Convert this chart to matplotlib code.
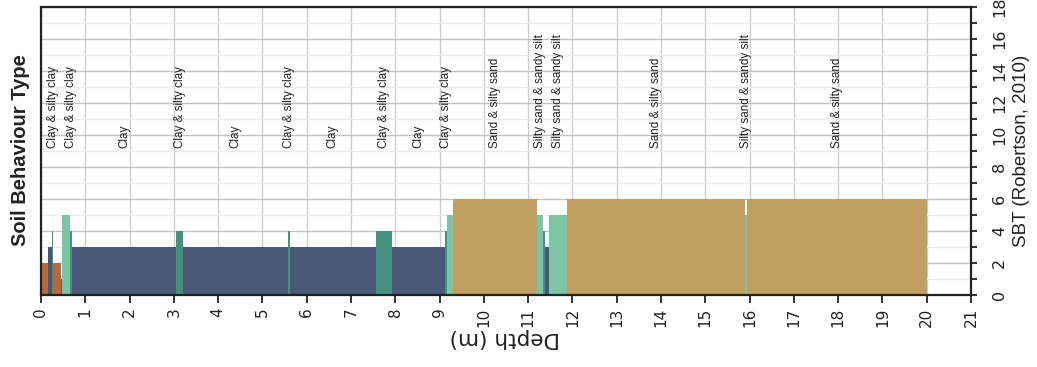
import numpy as np
import matplotlib
matplotlib.use("Agg")
import matplotlib.pyplot as plt
from matplotlib import font_manager
from matplotlib.ticker import MultipleLocator

# Soil layers: top / bottom depth (m) and Robertson (2010) SBT zone
layer_top = [0.00, 0.16, 0.25, 0.28, 0.45, 0.47, 0.65, 0.70, 3.05, 3.21, 5.58, 5.62,
             7.56, 7.93, 9.12, 9.17, 9.30, 11.20, 11.33, 11.38, 11.47, 11.88, 15.90, 15.94]
layer_bottom = [0.16, 0.25, 0.28, 0.45, 0.47, 0.65, 0.70, 3.05, 3.21, 5.58, 5.62, 7.56,
                7.93, 9.12, 9.17, 9.30, 11.20, 11.33, 11.38, 11.47, 11.88, 15.90, 15.94, 20.00]
layer_sbt = [2, 3, 4, 2, 1, 5, 4, 3, 4, 3, 4, 3, 4, 3, 4, 5, 6, 5, 4, 3, 5, 6, 5, 6]
layer_labelled = [0, 0, 1, 0, 0, 0, 1, 1, 1, 1, 1, 1, 1, 1, 1, 0, 1, 1, 0, 0, 1, 1, 1, 1]

sbt_names = {
    1: "Sensitive fine grained",
    2: "Organic soils - clay",
    3: "Clay",
    4: "Clay & silty clay",
    5: "Silty sand & sandy silt",
    6: "Sand & silty sand",
}
sbt_colors = {
    1: "#c0392b",
    2: "#b5693e",
    3: "#4a5878",
    4: "#459180",
    5: "#7bc5a3",
    6: "#c0a062",
}

depth_ticks = list(range(0, 22))
sbt_ticks = list(range(0, 19, 2))

installed = {f.name for f in font_manager.fontManager.ttflist}
narrow = "Liberation Sans Narrow" if "Liberation Sans Narrow" in installed else "Liberation Sans"

W, H = 1037, 367
fig = plt.figure(figsize=(W / 100, H / 100), dpi=100)
ax = fig.add_axes([41 / W, 72 / H, 930 / W, 288 / H])

widths = np.subtract(layer_bottom, layer_top)
ax.bar(layer_top, layer_sbt, width=widths, align="edge",
       color=[sbt_colors[s] for s in layer_sbt], linewidth=0, zorder=2)

ax.set_xlim(0, 21)
ax.set_ylim(0, 18)
ax.set_xticks(depth_ticks)
ax.set_yticks(sbt_ticks)
ax.yaxis.set_minor_locator(MultipleLocator(1))
ax.yaxis.tick_right()

ax.set_axisbelow(True)
ax.grid(axis="x", which="major", color="#cdcdcd", linewidth=1.0)
ax.grid(axis="y", which="major", color="#c2c2c2", linewidth=1.0)
ax.grid(axis="y", which="minor", color="#ebebeb", linewidth=1.0)

for sp in ax.spines.values():
    sp.set_color("#222222")
    sp.set_linewidth(1.6)

ax.tick_params(axis="x", direction="out", length=6, width=1.3, color="#222222",
               labelsize=11, labelrotation=90, pad=3, labelcolor="#222222")
ax.tick_params(axis="y", which="both", direction="out", length=4, width=1.3,
               color="#222222", labelsize=11.5, labelrotation=90, pad=11,
               labelcolor="#222222", left=False, right=True,
               labelleft=False, labelright=True)
for lbl in ax.get_yticklabels():
    lbl.set_verticalalignment("center")

# layer names written at the middle of each labelled layer
for top, bot, s, lab in zip(layer_top, layer_bottom, layer_sbt, layer_labelled):
    if lab:
        ax.text((top + bot) / 2, 9.2, sbt_names[s], rotation=90, ha="center",
                va="bottom", fontsize=8.4, family=narrow, color="#222222", zorder=3)

fig.text(21 / W, 1 - 150 / H, "Soil Behaviour Type", rotation=90, ha="center",
         va="center", fontsize=14.5, fontweight="bold", family="Liberation Sans",
         color="#222222")
fig.text(1022 / W, 1 - 150.5 / H, "SBT (Robertson, 2010)", rotation=90,
         ha="center", va="center", fontsize=13.5, family="Liberation Sans",
         color="#222222")
fig.text(505 / W, 1 - 338 / H, "Depth (m)", rotation=180, ha="center",
         va="center", fontsize=15.5, family="DejaVu Sans", color="#222222")

fig.savefig("out.png", dpi=100, facecolor="white")
